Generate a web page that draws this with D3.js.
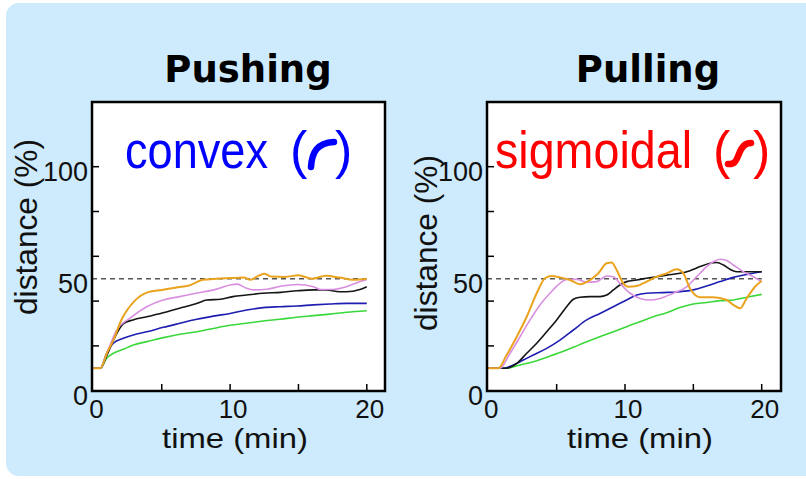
<!DOCTYPE html>
<html>
<head>
<meta charset="utf-8">
<script src="https://cdn.jsdelivr.net/npm/d3@7"></script>
<style>
  html, body { margin: 0; padding: 0; background: #ffffff; }
  svg { display: block; }
</style>
</head>
<body>
<svg id="chart" width="806" height="479"></svg>
<script>
// ---- data -------------------------------------------------------------
const panelTitles = ["Pushing", "Pulling"];
const panelModes = ["convex", "sigmoidal"];
const xTicks = [5, 10, 15, 20];
const xTickLabels = [0, 10, 20];
const yTicks = [20, 40, 60, 80, 100];
const yTickLabels = [0, 50, 100];
const referenceLevel = 50;
const xAxisTitle = "time (min)";
const yAxisTitle = "distance (%)";

// [time (min), distance (%)]
const pushingGreen = [[0,10],[0.5,10],[0.97,14.5],[1.46,16.7],[2.19,18.5],[2.92,20.4],[3.9,21.9],[5.12,23.7],[6.33,25.2],[7.56,26.3],[8.77,27.8],[10,29.2],[11.21,30.1],[12.43,31.1],[13.65,31.9],[14.87,32.8],[16.09,33.5],[17.3,34.2],[18.53,35],[20,35.7]];
const pushingBlue = [[0,10],[0.5,10],[0.97,16.7],[1.46,21.2],[2.19,23.4],[2.92,24.9],[3.9,26.3],[5.12,28.3],[6.33,30.1],[7.56,31.9],[8.77,33.3],[10,34.5],[11.21,36],[12.43,37.1],[13.65,37.5],[14.87,37.8],[16.09,38.3],[17.3,38.7],[18.53,39],[20,39]];
const pushingBlack = [[0,10],[0.5,10],[1,16],[1.5,23],[2.2,30],[2.9,31.6],[3.9,33],[5.1,34.8],[6.3,36.8],[7.6,39],[8.3,40.5],[9.3,40.8],[10.2,42],[11.2,42.7],[12.4,43.5],[13.7,43.9],[14.9,44.6],[16.1,45],[17,45],[18,44.2],[18.5,44.2],[19.5,45.2],[20,46.4]];
const pushingViolet = [[0,10],[0.5,10],[1,17],[1.7,27],[2.7,32.5],[3.9,37.5],[5.1,40.5],[6.3,42],[7.5,43.5],[8.8,45],[10,47.2],[10.5,47.6],[11.2,45.7],[11.7,45],[12.7,45.3],[13.7,46.6],[14.9,47.4],[16.1,46.4],[16.6,45.2],[17.5,45.2],[18.5,46.4],[19.5,48.7],[20,49.7]];
const pushingOrange = [[0,10],[0.5,10],[1,17],[1.5,23],[2,31],[3,40],[4,44],[5,45],[6,46],[7,47],[8,49.5],[9,50],[10,50.3],[11,50.5],[11.5,49.5],[12,51],[12.5,52.2],[13,51],[14,50.8],[15,51.5],[16,50],[17,51.3],[18,50.5],[19,49.5],[20,50]];

const pullingGreen = [[0,10],[1.34,10],[2.32,11.5],[3.29,12.9],[4.27,14.9],[5.24,17],[6.22,19.4],[7.2,21.9],[8.17,24.1],[9.15,26.3],[10.12,28.6],[11.1,30.8],[12.07,33],[13.05,34.8],[14.02,37.1],[14.99,38.7],[15.97,39.4],[16.95,40.2],[17.93,40.5],[18.9,41.7],[20,43]];
const pullingBlue = [[0,10],[1.1,10],[1.83,11.5],[2.56,13.7],[3.29,15.9],[4.27,18.9],[5.24,22.6],[6.22,27.1],[7.2,31.6],[8.17,34.5],[9.15,37.5],[10.12,40.5],[10.85,42.7],[11.58,43.5],[12.8,43.8],[14.02,44.2],[14.99,45],[15.97,46.7],[16.95,48.7],[17.93,50.6],[18.9,51.9],[20,53.1]];
const pullingBlack = [[0,10],[1.34,10],[2.08,12.2],[2.81,16.7],[3.54,21.2],[4.27,26.3],[5,31.6],[5.73,37.5],[6.22,40.8],[6.71,41.7],[7.44,42],[8.17,42],[8.66,42.7],[9.15,45],[9.63,47.2],[10.12,48.7],[10.85,49.4],[11.58,50.2],[12.32,50.9],[13.05,51.6],[14.02,52.4],[14.75,53.6],[15.49,55.4],[16.22,56.9],[16.71,57.2],[17.2,56.1],[17.68,54.2],[18.17,53.1],[18.9,53.1],[20,53.1]];
const pullingViolet = [[0,10],[0.85,10],[1.59,16.7],[2.32,24.1],[3.05,31.6],[3.78,38.3],[4.51,43.5],[5.24,47.9],[5.73,49.7],[6.46,49.7],[7.2,48.4],[7.93,48.7],[8.66,51.2],[9.15,50.9],[9.63,47.9],[10.37,43.5],[11.1,41.2],[11.83,40.5],[12.56,41.2],[13.54,43.5],[14.51,46.4],[15.25,50.9],[15.97,55.4],[16.46,57.6],[16.95,58.7],[17.44,58.1],[17.93,56.1],[18.66,53.1],[19.39,50.9],[20,48.7]];
const pullingOrange = [[0,10],[0.73,10],[1.34,15.9],[2.08,24.1],[2.81,33],[3.54,43.5],[4.15,50.2],[4.64,51.2],[5.24,50.6],[5.98,49.4],[6.71,47.5],[7.44,49.4],[8.05,52.4],[8.66,56.9],[9.02,57.2],[9.39,53.9],[9.88,47.9],[10.24,46.4],[10.85,46.7],[11.58,48.7],[12.32,50.9],[13.05,52.4],[13.78,54.2],[14.27,52.4],[14.75,45.7],[15.49,41.7],[16.46,41.7],[17.44,40.5],[17.93,38.3],[18.42,36.8],[18.9,41.2],[19.51,46.4],[20,49.1]];

const seriesColors = {
  green: "#3bd83b",
  blue: "#1e1eb0",
  black: "#151515",
  violet: "#d98fe0",
  orange: "#e9a31f"
};

const panels = [
  {
    title: panelTitles[0], mode: panelModes[0], modeColor: "#0000ff",
    series: [["green", pushingGreen], ["blue", pushingBlue], ["black", pushingBlack], ["violet", pushingViolet], ["orange", pushingOrange]],
    frameLeft: 92, frameRight: 385, xRange: [93.4, 366.8],
    titleX: 248, xTitleX: 235, yTitleX: 37, yTitleY: 227,
    modeX: 125, modeLen: 143, openX: 290, closeX: 335,
    glyph: "M311,167 C312,152 317,143 334,142"
  },
  {
    title: panelTitles[1], mode: panelModes[1], modeColor: "#ff0000",
    series: [["green", pullingGreen], ["blue", pullingBlue], ["black", pullingBlack], ["violet", pullingViolet], ["orange", pullingOrange]],
    frameLeft: 487, frameRight: 781, xRange: [488.3, 761.7],
    titleX: 648, xTitleX: 640, yTitleX: 437, yTitleY: 243,
    modeX: 495, modeLen: 197, openX: 713, closeX: 753,
    glyph: "M728,164 C736,165 737,158 739,154 C741,148 744,143 751,143"
  }
];

// ---- layout -----------------------------------------------------------
const frameTop = 102, frameBottom = 391;
const y = d3.scaleLinear().domain([0, 100]).range([390.7, 166.7]);
const font = "'Liberation Sans', Arial, sans-serif";

const svg = d3.select("#chart");

// rounded pale-blue backdrop
svg.append("rect")
  .attr("x", 6).attr("y", 3)
  .attr("width", 830).attr("height", 473)
  .attr("rx", 13).attr("ry", 13)
  .attr("fill", "#cdebfc");

panels.forEach(p => {
  const x = d3.scaleLinear().domain([0, 20]).range(p.xRange);
  const g = svg.append("g");

  // plot background
  g.append("rect")
    .attr("x", p.frameLeft).attr("y", frameTop)
    .attr("width", p.frameRight - p.frameLeft)
    .attr("height", frameBottom - frameTop)
    .attr("fill", "#ffffff");

  // 50 % reference line
  g.append("line")
    .attr("x1", p.frameLeft).attr("x2", x(20))
    .attr("y1", y(referenceLevel)).attr("y2", y(referenceLevel))
    .attr("stroke", "#555").attr("stroke-width", 1.5)
    .attr("stroke-dasharray", "5,4");

  const line = d3.line()
    .x(d => x(d[0]))
    .y(d => y(d[1]))
    .curve(d3.curveMonotoneX);

  p.series.forEach(([key, data]) => {
    g.append("path")
      .datum(data)
      .attr("d", line)
      .attr("fill", "none")
      .attr("stroke", seriesColors[key])
      .attr("stroke-width", key === "orange" ? 2 : 1.6)
      .attr("stroke-linejoin", "round");
  });

  // frame
  g.append("rect")
    .attr("x", p.frameLeft).attr("y", frameTop)
    .attr("width", p.frameRight - p.frameLeft)
    .attr("height", frameBottom - frameTop)
    .attr("fill", "none")
    .attr("stroke", "#000").attr("stroke-width", 2.5);

  // inward ticks
  g.selectAll(".ytick").data(yTicks).join("line")
    .attr("x1", p.frameLeft).attr("x2", p.frameLeft + 7)
    .attr("y1", d => y(d)).attr("y2", d => y(d))
    .attr("stroke", "#000").attr("stroke-width", 1.5);
  g.selectAll(".xtick").data(xTicks).join("line")
    .attr("x1", d => x(d)).attr("x2", d => x(d))
    .attr("y1", frameBottom).attr("y2", frameBottom - 7)
    .attr("stroke", "#000").attr("stroke-width", 1.5);

  // tick labels
  g.selectAll(".ylab").data(yTickLabels).join("text")
    .attr("x", p.frameLeft - 4)
    .attr("y", d => y(d) + 14)
    .attr("text-anchor", "end")
    .attr("font-family", font).attr("font-size", 27)
    .attr("fill", "#111")
    .text(d => d);
  g.selectAll(".xlab").data(xTickLabels).join("text")
    .attr("x", d => x(d) + 3)
    .attr("y", 418)
    .attr("text-anchor", "middle")
    .attr("font-family", font).attr("font-size", 26)
    .attr("fill", "#111")
    .text(d => d);

  // axis titles
  g.append("text")
    .attr("x", p.xTitleX).attr("y", 448)
    .attr("text-anchor", "middle")
    .attr("font-family", font).attr("font-size", 28)
    .attr("textLength", 146).attr("lengthAdjust", "spacingAndGlyphs")
    .attr("fill", "#111")
    .text(xAxisTitle);
  g.append("text")
    .attr("transform", `translate(${p.yTitleX},${p.yTitleY}) rotate(-90)`)
    .attr("text-anchor", "middle")
    .attr("font-family", font).attr("font-size", 31)
    .attr("textLength", 176).attr("lengthAdjust", "spacingAndGlyphs")
    .attr("fill", "#111")
    .text(yAxisTitle);

  // panel title
  g.append("text")
    .attr("x", p.titleX).attr("y", 82)
    .attr("text-anchor", "middle")
    .attr("font-family", "'DejaVu Sans', sans-serif")
    .attr("font-weight", "bold").attr("font-size", 37)
    .attr("fill", "#000")
    .text(p.title);

  // profile shape annotation
  g.append("text")
    .attr("x", p.modeX).attr("y", 168)
    .attr("font-family", font).attr("font-size", 52)
    .attr("textLength", p.modeLen).attr("lengthAdjust", "spacingAndGlyphs")
    .attr("fill", p.modeColor)
    .text(p.mode);
  g.append("text")
    .attr("x", p.openX).attr("y", 168)
    .attr("font-family", font).attr("font-size", 52)
    .attr("fill", p.modeColor)
    .text("(");
  g.append("text")
    .attr("x", p.closeX).attr("y", 168)
    .attr("font-family", font).attr("font-size", 52)
    .attr("fill", p.modeColor)
    .text(")");
  g.append("path")
    .attr("d", p.glyph)
    .attr("fill", "none")
    .attr("stroke", p.modeColor)
    .attr("stroke-width", 6.5)
    .attr("stroke-linecap", "round");
});
</script>
</body>
</html>
